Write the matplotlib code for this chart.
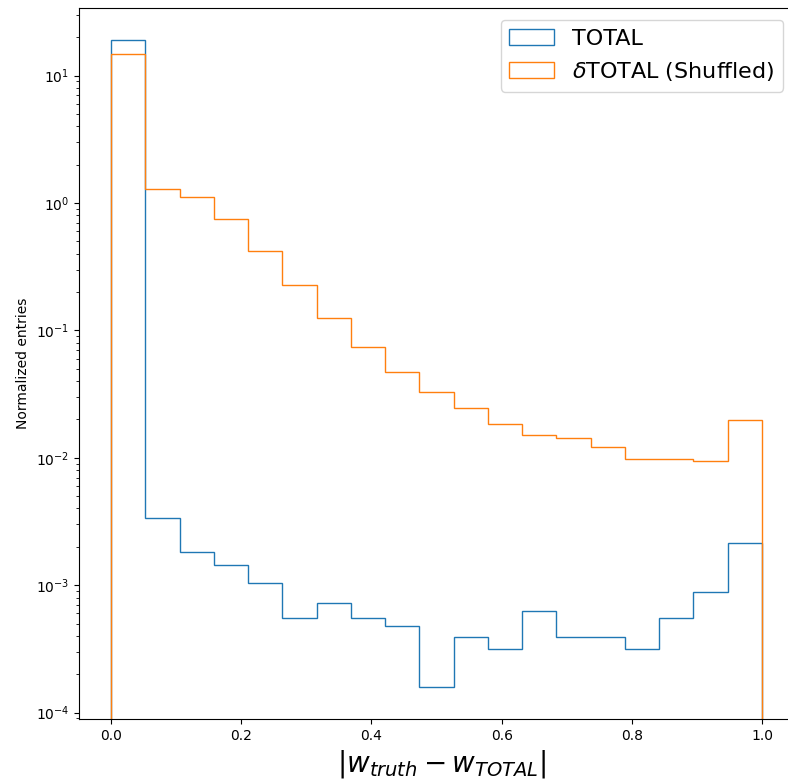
import numpy as np
import matplotlib.pyplot as plt

# 19 equal bins between 0 and 1
edges = np.linspace(0.0, 1.0, 20)

# normalized bin contents
total = [19.1, 0.00334, 0.00181, 0.00143, 0.00104, 0.00055, 0.000718, 0.00055,
         0.000474, 0.00016, 0.000395, 0.000318, 0.000632, 0.000395, 0.000395,
         0.000318, 0.00055, 0.00088, 0.00214]
shuffled = [14.8, 1.30, 1.12, 0.748, 0.42, 0.226, 0.126, 0.0735, 0.0473, 0.0326,
            0.0248, 0.0184, 0.0150, 0.0142, 0.0122, 0.00975, 0.00975, 0.0095, 0.0197]

labels = ["TOTAL", r"$\delta$TOTAL (Shuffled)"]

centers = 0.5 * (edges[:-1] + edges[1:])

fig = plt.figure(figsize=(7.88, 7.81), dpi=100)
# right spine falls outside the image, as in the (cropped) reference
ax = fig.add_axes([0.1003, 0.0794, 0.92, 0.9104])
ax.spines['right'].set_visible(False)

ax.hist(centers, bins=edges, weights=total, histtype='step', label=labels[0])
ax.hist(centers, bins=edges, weights=shuffled, histtype='step', label=labels[1])

ax.set_yscale('log')
ax.set_xlim(-0.0492, 1.0645)
ax.set_ylim(8.9e-5, 34)
ax.set_ylabel("Normalized entries")
ax.set_xlabel(r"$|w_{truth} - w_{TOTAL}|$", fontsize=20)
ax.legend(loc='upper right', fontsize=16, bbox_to_anchor=(783 / 788, 1 - 20 / 781),
          bbox_transform=fig.transFigure, borderaxespad=0)

fig.savefig("out.png", dpi=100)
